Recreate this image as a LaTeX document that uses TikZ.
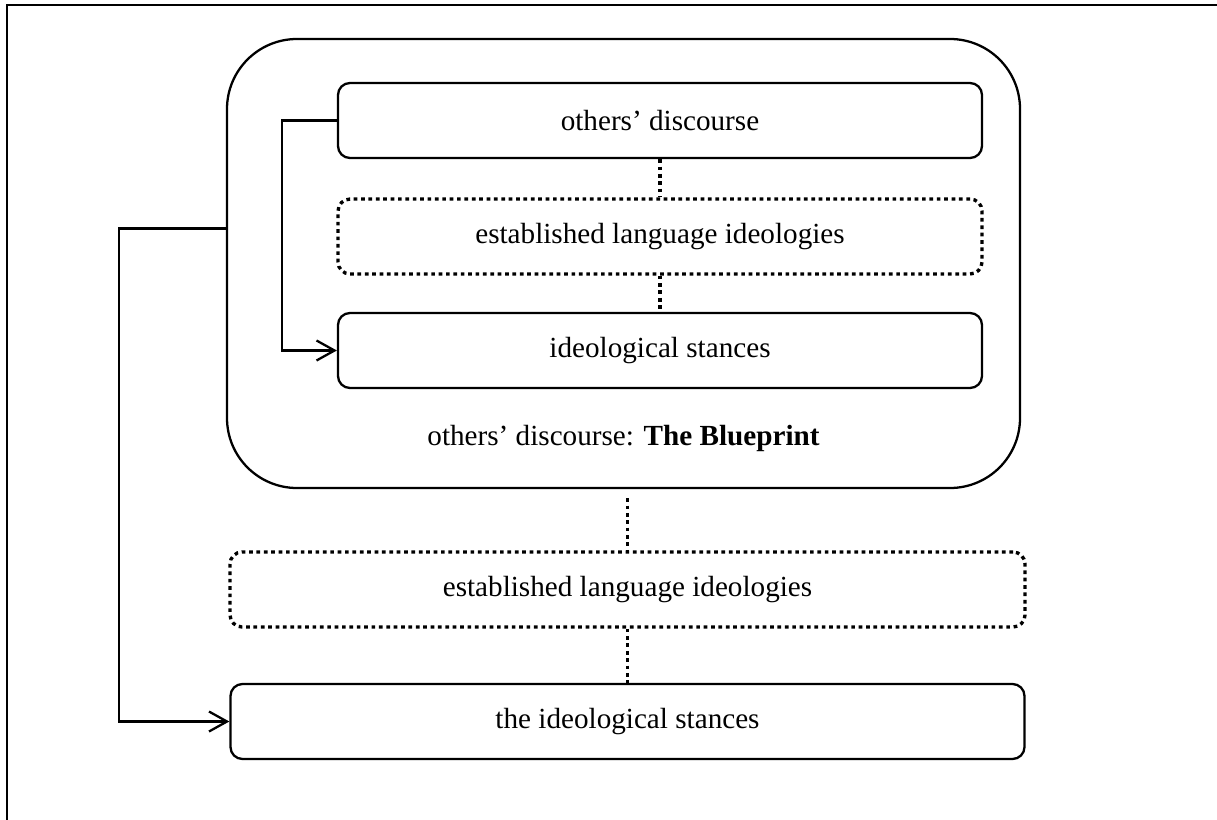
\documentclass[tikz,border=0pt]{standalone}
\usepackage{fontspec}
\setmainfont{Liberation Serif}
\usetikzlibrary{arrows.meta, positioning}

\begin{document}
\begin{tikzpicture}[node distance=2.3cm, auto,
    block/.style={rectangle, draw, line width=1.3pt, rounded corners=0.24cm, minimum width=12.88cm, minimum height=1.5cm, inner sep=0pt, align=center, font=\fontsize{16.6}{20}\selectfont},
    dotblock/.style={block, line width=1.9pt, dash pattern=on 2.1pt off 2.1pt},
    panel/.style={rectangle, draw, line width=1.3pt, rounded corners=1.4cm, minimum width=15.86cm, minimum height=8.98cm},
    note/.style={font=\fontsize{16.6}{20}\selectfont},
    link/.style={line width=1.9pt, dash pattern=on 2.1pt off 2.1pt},
    arrow/.style={line width=1.3pt, -{Straight Barb[length=3.6mm, width=4mm]}}]
    \useasboundingbox (0,0) rectangle (24.34,-16.4);
    \draw [line width=1.3pt] (0.14,-16.4) |- (24.34,-0.1);
    \node [panel] (outer) at (12.47,-5.27) {};
    \node [block] (others) at (13.2,-2.41) {others’ discourse};
    \node [dotblock, below of=others, node distance=2.32cm] (ideo) {established language ideologies};
    \node [block, below of=ideo, node distance=2.28cm] (stances) {ideological stances};
    \node [note] (blueprint) at ([yshift=1.02cm]outer.south) {others’ discourse: \textbf{The Blueprint}};
    \node [dotblock, minimum width=15.9cm] (ideo2) at (12.55,-11.79) {established language ideologies};
    \node [block, minimum width=15.88cm, below of=ideo2, node distance=2.64cm] (stances2) {the ideological stances};
    \path (outer.south -| ideo2.north) ++(0,-0.18) coordinate (gap);

    \draw [link] (others) -- (ideo);
    \draw [link] (ideo) -- (stances);
    \draw [link] (gap) -- (ideo2);
    \draw [link] (ideo2) -- (stances2);
    \draw [arrow] (others.west) -- ++(-1.1,0) |- (stances.west);
    \draw [arrow] ([yshift=0.7cm]outer.west) -- ++(-2.14,0) |- (stances2.west);
\end{tikzpicture}
\end{document}
